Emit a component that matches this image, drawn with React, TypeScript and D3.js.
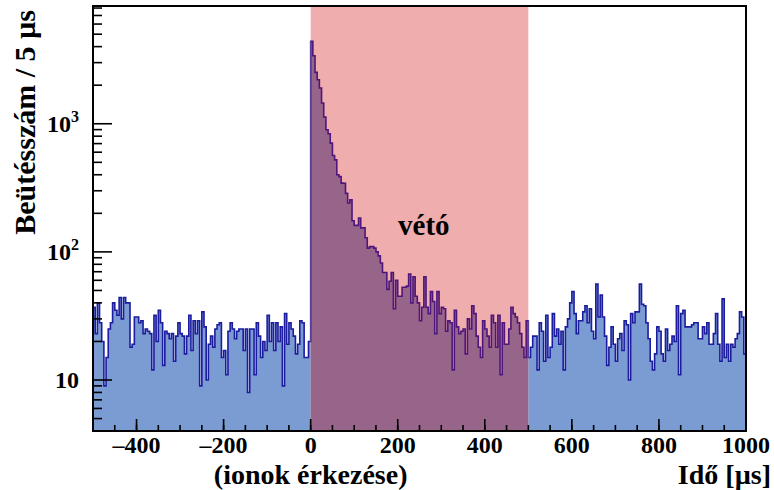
import React from "react";
import * as d3 from "d3";

const X_MIN = -500;
const X_MAX = 1000;
const BIN_WIDTH = 5;
const Y_MIN = 4;
const Y_MAX = 8300;
const VETO_START = 0;
const VETO_END = 500;

// counts per 5 µs bin, -500 .. 0
const countsBefore = [
  37, 23, 40, 28, 20, 9, 15, 25, 28, 40,
  35, 32, 44, 30, 44, 40, 40, 18, 19, 31,
  31, 28, 29, 23, 25, 24, 23, 12, 32, 20,
  35, 28, 13, 24, 23, 21, 23, 14, 22, 28,
  23, 22, 16, 22, 32, 17, 29, 23, 29, 9,
  34, 26, 10, 19, 22, 18, 25, 27, 28, 15,
  17, 11, 24, 28, 25, 21, 24, 25, 25, 17,
  25, 8, 25, 25, 11, 28, 22, 15, 20, 17,
  32, 20, 28, 17, 28, 20, 26, 9, 33, 19,
  28, 25, 22, 16, 19, 29, 28, 15, 15, 20,
];
// 0 .. 500 (veto window)
const countsVeto = [
  4395, 3397, 2518, 2207, 1901, 1452, 1128, 897, 835, 706,
  565, 523, 400, 387, 344, 343, 286, 241, 255, 175,
  161, 161, 184, 154, 154, 129, 107, 110, 110, 107,
  100, 93, 82, 69, 69, 51, 59, 69, 36, 60,
  45, 45, 53, 53, 54, 67, 40, 64, 45, 40,
  29, 37, 64, 37, 33, 49, 41, 23, 49, 33,
  37, 36, 24, 29, 28, 12, 35, 26, 23, 24,
  25, 16, 30, 25, 38, 33, 22, 18, 15, 29,
  25, 22, 18, 32, 28, 18, 32, 11, 28, 19,
  19, 25, 37, 33, 31, 28, 23, 18, 15, 29,
];
// 500 .. 1000
const countsAfter = [
  15, 18, 22, 22, 12, 28, 24, 14, 32, 15,
  18, 33, 22, 25, 19, 24, 12, 26, 30, 40,
  49, 33, 23, 29, 29, 34, 38, 28, 36, 24,
  21, 56, 31, 46, 31, 22, 13, 18, 26, 19,
  14, 21, 23, 17, 29, 27, 10, 33, 28, 34,
  34, 56, 39, 38, 28, 21, 14, 12, 16, 26,
  24, 16, 14, 25, 17, 19, 22, 20, 38, 11,
  33, 35, 26, 26, 26, 27, 28, 28, 21, 21,
  26, 23, 28, 19, 19, 23, 33, 19, 14, 43,
  15, 19, 14, 19, 18, 21, 23, 34, 31, 16,
];

const xTickLabels = [-400, -200, 0, 200, 400, 600, 800, 1000];
const yDecades = [1, 2, 3];

const FONT = "'Liberation Serif', 'Times New Roman', serif";

export default function App() {
  const W = 774;
  const H = 490;
  const left = 93;
  const right = 746;
  const top = 6;
  const bottom = 431;

  const x = d3.scaleLinear().domain([X_MIN, X_MAX]).range([left, right]);
  const y = d3.scaleLog().domain([Y_MIN, Y_MAX]).range([bottom, top]);

  const counts = [...countsBefore, ...countsVeto, ...countsAfter];
  const pts = counts.map((v, i) => ({ x0: X_MIN + i * BIN_WIDTH, v }));
  pts.push({ x0: X_MAX, v: counts[counts.length - 1] });

  const areaPath = d3
    .area<{ x0: number; v: number }>()
    .x((d) => x(d.x0))
    .y0(bottom)
    .y1((d) => y(d.v))
    .curve(d3.curveStepAfter)(pts) as string;

  const lineStr = d3
    .line<{ x0: number; v: number }>()
    .x((d) => x(d.x0))
    .y((d) => y(d.v))
    .curve(d3.curveStepAfter)(pts) as string;
  const linePath = `M${x(X_MIN)},${bottom}L${lineStr.slice(1)}L${x(X_MAX)},${bottom}`;

  const xMinor = d3.range(X_MIN, X_MAX + 1, 50);
  const xMajor = d3.range(-400, X_MAX + 1, 200);
  const yMinor: number[] = [];
  for (let e = 0; e <= 3; e++) {
    for (let k = 2; k <= 9; k++) {
      const v = k * Math.pow(10, e);
      if (v >= Y_MIN && v <= Y_MAX) yMinor.push(v);
    }
  }

  const xv0 = x(VETO_START);
  const xv1 = x(VETO_END);

  return (
    <svg
      width={W}
      height={H}
      style={{ position: "absolute", left: 0, top: 0, background: "#fff" }}
    >
      <defs>
        <clipPath id="outside">
          <rect x={left} y={0} width={xv0 - left} height={H} />
          <rect x={xv1} y={0} width={right - xv1} height={H} />
        </clipPath>
        <clipPath id="inside">
          <rect x={xv0} y={0} width={xv1 - xv0} height={H} />
        </clipPath>
        <clipPath id="plot">
          <rect x={left} y={top} width={right - left} height={bottom - top} />
        </clipPath>
      </defs>
      <rect x={0} y={0} width={W} height={H} fill="#fff" />
      <rect x={xv0} y={top} width={xv1 - xv0} height={bottom - top} fill="#f0adad" />
      <g clipPath="url(#plot)">
        <g clipPath="url(#outside)">
          <path d={areaPath} fill="#7b9bd3" />
          <path d={linePath} fill="none" stroke="#1c1c9e" strokeWidth={1.6} />
        </g>
        <g clipPath="url(#inside)">
          <path d={areaPath} fill="#98658a" />
          <path d={linePath} fill="none" stroke="#4e167a" strokeWidth={1.6} />
        </g>
      </g>

      <text
        x={x(260)}
        y={235}
        textAnchor="middle"
        fontFamily={FONT}
        fontWeight="bold"
        fontSize={29}
        fill="#000"
      >
        vétó
      </text>

      {/* ticks */}
      <g stroke="#000" strokeWidth={1.6}>
        {xMinor.map((t) => (
          <line key={"xm" + t} x1={x(t)} x2={x(t)} y1={bottom} y2={bottom - 6} />
        ))}
        {xMajor.map((t) => (
          <line key={"xM" + t} x1={x(t)} x2={x(t)} y1={bottom} y2={bottom - 12} />
        ))}
        {yMinor.map((t) => (
          <line key={"ym" + t} x1={left} x2={left + 9} y1={y(t)} y2={y(t)} />
        ))}
        {yDecades.map((e) => (
          <line
            key={"yM" + e}
            x1={left}
            x2={left + 19}
            y1={y(Math.pow(10, e))}
            y2={y(Math.pow(10, e))}
          />
        ))}
      </g>

      {/* frame */}
      <rect
        x={left}
        y={top}
        width={right - left}
        height={bottom - top}
        fill="none"
        stroke="#000"
        strokeWidth={2}
      />

      {/* x tick labels */}
      <g fontFamily={FONT} fontWeight="bold" fontSize={24} textAnchor="middle" fill="#000">
        {xTickLabels.map((t) => (
          <text key={"xl" + t} x={x(t)} y={453}>
            {t < 0 ? "\u2013" + Math.abs(t) : String(t)}
          </text>
        ))}
      </g>

      {/* y tick labels */}
      <g fontFamily={FONT} fontWeight="bold" fill="#000">
        {yDecades.map((e) =>
          e === 1 ? (
            <text key={"yl" + e} x={79} y={y(10) + 8} fontSize={24} textAnchor="end">
              10
            </text>
          ) : (
            <text key={"yl" + e} x={79} y={y(Math.pow(10, e)) + 8} fontSize={24} textAnchor="end">
              10
              <tspan fontSize={16} dy={-10}>
                {e}
              </tspan>
            </text>
          )
        )}
      </g>

      {/* axis titles */}
      <text
        x={x(0)}
        y={484}
        textAnchor="middle"
        fontFamily={FONT}
        fontWeight="bold"
        fontSize={28}
        fill="#000"
      >
        (ionok érkezése)
      </text>
      <text
        x={771}
        y={484}
        textAnchor="end"
        fontFamily={FONT}
        fontWeight="bold"
        fontSize={28}
        fill="#000"
      >
        Idő [µs]
      </text>
      <text
        transform="translate(35,10) rotate(-90)"
        textAnchor="end"
        fontFamily={FONT}
        fontWeight="bold"
        fontSize={30}
        fill="#000"
      >
        Beütésszám / 5 µs
      </text>
    </svg>
  );
}
